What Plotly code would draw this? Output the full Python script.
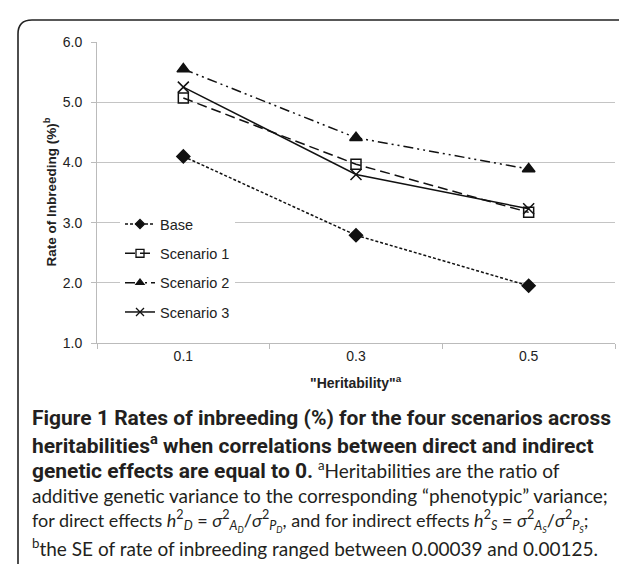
import plotly.graph_objects as go

# ---- data ----
heritability = ["0.1", "0.3", "0.5"]
base = [4.10, 2.79, 1.95]
scenario1 = [5.07, 3.97, 3.17]
scenario2 = [5.55, 4.41, 3.89]
scenario3 = [5.25, 3.80, 3.23]
y_ticks = [1.0, 2.0, 3.0, 4.0, 5.0, 6.0]
series_names = ["Base", "Scenario 1", "Scenario 2", "Scenario 3"]

W, H = 627, 564
ML, MR, MT, MB = 89, 20, 34, 229
PW = W - ML - MR
PH = H - MT - MB


def px(x):
    return (x - ML) / PW


def py(y):
    return (H - MB - y) / PH


fig = go.Figure()

styles = [
    ("diamond", 10, 7, "3px,2px"),
    ("square-open", 10, 8, "10px,5px"),
    ("triangle-up", 11, 7, "10px,4px,2px,4px,2px,4px"),
    ("x-thin-open", 11, 8, "solid"),
]
values = [base, scenario1, scenario2, scenario3]
for i, (name, vals, (sym, size, lsize, dash)) in enumerate(zip(series_names, values, styles)):
    fig.add_trace(go.Scatter(
        x=heritability, y=vals, name=name, mode="lines+markers",
        line=dict(color="#111", width=1.5, dash=dash),
        marker=dict(symbol=sym, size=size, color="#111",
                    line=dict(color="#111", width=1.5)),
        legendgroup=f"g{i}", showlegend=False,
    ))
    # legend-only entry with smaller symbol (no data points)
    fig.add_trace(go.Scatter(
        x=[None], y=[None], name=name, mode="lines+markers",
        line=dict(color="#111", width=1.5, dash=dash),
        marker=dict(symbol=sym, size=lsize, color="#111",
                    line=dict(color="#111", width=1.3)),
        legendgroup=f"g{i}", showlegend=True,
    ))

axis_font = dict(family="Liberation Sans, Arial, sans-serif", size=14, color="#222")

fig.update_xaxes(
    type="category", range=[-0.5, 2.5], tickson="boundaries",
    ticks="outside", ticklen=5, tickcolor="#bbb",
    showline=True, linecolor="#bbb", linewidth=1,
    showgrid=False, tickfont=axis_font, zeroline=False,
)
fig.update_yaxes(
    range=[1, 6], tickvals=y_ticks, tickformat=".1f",
    ticks="outside", ticklen=5, tickcolor="#bbb",
    showline=True, linecolor="#bbb", linewidth=1,
    showgrid=True, gridcolor="#c4c4c4", gridwidth=1,
    tickfont=axis_font, zeroline=False, ticklabelstandoff=6,
)

annotations = [
    dict(text="<b>Rate of Inbreeding (%)<sup>b</sup></b>", x=px(42), y=0.5,
         xanchor="center", yanchor="middle",
         textangle=-90, showarrow=False, xref="paper", yref="paper",
         font=dict(family="Liberation Sans, Arial, sans-serif", size=13.5, color="#222")),
    dict(text="<b>\"Heritability\"<sup>a</sup></b>", x=0.5, y=py(374),
         xanchor="center", yanchor="middle",
         showarrow=False, xref="paper", yref="paper",
         font=dict(family="Liberation Sans, Arial, sans-serif", size=14, color="#222")),
]

B = "<span style='font-family:Roboto;font-size:21px'><b>"
E = "</b></span>"
cap_lines = [
    B + "Figure 1 Rates of inbreeding (%) for the four scenarios across" + E,
    B + "heritabilities<sup>a</sup> when correlations between direct and indirect" + E,
    B + "genetic effects are equal to 0." + E + " <sup>a</sup>Heritabilities are the ratio of",
    "additive genetic variance to the corresponding \u201cphenotypic\u201d variance;",
    "for direct effects <i>h</i><sup>2</sup><sub><i>D</i></sub> = <i>\u03c3</i><sup>2</sup><sub><i>A<sub>D</sub></i></sub>/<i>\u03c3</i><sup>2</sup><sub><i>P<sub>D</sub></i></sub>, and for indirect effects <i>h</i><sup>2</sup><sub><i>S</i></sub> = <i>\u03c3</i><sup>2</sup><sub><i>A<sub>S</sub></i></sub>/<i>\u03c3</i><sup>2</sup><sub><i>P<sub>S</sub></i></sub>;",
    "<sup>b</sup>the SE of rate of inbreeding ranged between 0.00039 and 0.00125.",
]
cap_y = [410, 436, 462, 487, 513, 539]
cap_size = [19, 19, 19, 19, 18, 19]
for t, yy, fs in zip(cap_lines, cap_y, cap_size):
    annotations.append(dict(
        text=t, x=px(22), y=py(yy), xanchor="left", yanchor="middle",
        showarrow=False, xref="paper", yref="paper",
        font=dict(family="Lato, Open Sans, sans-serif", size=fs, color="#231f20"),
    ))

# rounded frame
x0, y0, x1 = 10, 12, 628
r = 14
path = (f"M {px(x0)},{py(H + 5)} L {px(x0)},{py(y0 + r)} "
        f"Q {px(x0)},{py(y0)} {px(x0 + r)},{py(y0)} "
        f"L {px(x1 - r)},{py(y0)} Q {px(x1)},{py(y0)} {px(x1)},{py(y0 + r)} "
        f"L {px(x1)},{py(H + 5)}")

fig.update_layout(
    width=W, height=H,
    margin=dict(l=ML, r=MR, t=MT, b=MB),
    paper_bgcolor="white", plot_bgcolor="white",
    showlegend=True,
    legend=dict(x=px(112), y=py(200), xanchor="left", yanchor="top",
                bgcolor="white", borderwidth=0, tracegroupgap=7.5,
                font=dict(family="Liberation Sans, Arial, sans-serif", size=14.5, color="#222")),
    annotations=annotations,
    shapes=[dict(type="path", path=path, xref="paper", yref="paper",
                 line=dict(color="#222", width=1.6), layer="above")],
)

fig.write_html("out.html")
